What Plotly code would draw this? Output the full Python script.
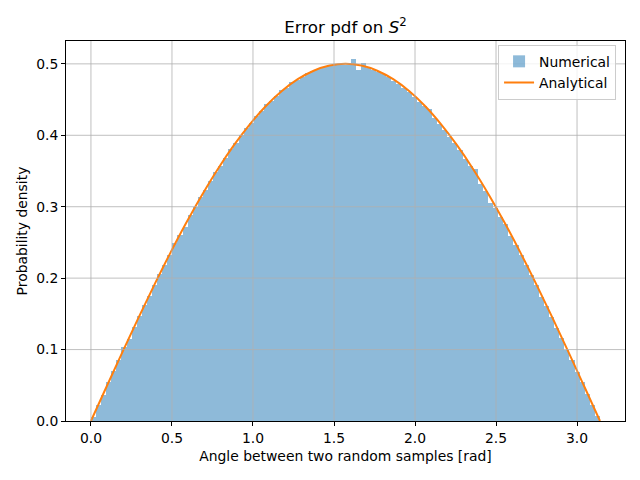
import numpy as np
import plotly.graph_objects as go

# --- DATA ---
N_BINS = 100
hist_density = [
    0.006, 0.022, 0.037, 0.054, 0.070, 0.085, 0.103, 0.115, 0.131, 0.147,
    0.163, 0.175, 0.190, 0.206, 0.219, 0.233, 0.249, 0.260, 0.272, 0.288,
    0.299, 0.313, 0.323, 0.336, 0.349, 0.357, 0.368, 0.381, 0.389, 0.400,
    0.410, 0.417, 0.427, 0.434, 0.444, 0.448, 0.455, 0.463, 0.466, 0.474,
    0.478, 0.481, 0.487, 0.490, 0.493, 0.496, 0.497, 0.498, 0.499, 0.499,
    0.498, 0.507, 0.492, 0.501, 0.494, 0.491, 0.488, 0.486, 0.481, 0.476,
    0.472, 0.466, 0.461, 0.454, 0.446, 0.441, 0.437, 0.424, 0.416, 0.407,
    0.398, 0.389, 0.379, 0.367, 0.357, 0.353, 0.332, 0.322, 0.305, 0.298,
    0.285, 0.276, 0.259, 0.246, 0.232, 0.218, 0.204, 0.190, 0.174, 0.161,
    0.145, 0.130, 0.116, 0.099, 0.085, 0.069, 0.054, 0.038, 0.022, 0.007,
]

curve_x = [
    0.0, 0.0982, 0.1963, 0.2945, 0.3927, 0.4909, 0.5890, 0.6872, 0.7854,
    0.8836, 0.9817, 1.0799, 1.1781, 1.2763, 1.3744, 1.4726, 1.5708, 1.6690,
    1.7671, 1.8653, 1.9635, 2.0617, 2.1598, 2.2580, 2.3562, 2.4544, 2.5525,
    2.6507, 2.7489, 2.8471, 2.9452, 3.0434, 3.1416,
]
curve_y = [
    0.0, 0.0490, 0.0975, 0.1451, 0.1913, 0.2357, 0.2778, 0.3172, 0.3536,
    0.3865, 0.4157, 0.4410, 0.4619, 0.4785, 0.4904, 0.4976, 0.5000, 0.4976,
    0.4904, 0.4785, 0.4619, 0.4410, 0.4157, 0.3865, 0.3536, 0.3172, 0.2778,
    0.2357, 0.1913, 0.1451, 0.0975, 0.0490, 0.0,
]

x_ticks = [0.0, 0.5, 1.0, 1.5, 2.0, 2.5, 3.0]
y_ticks = [0.0, 0.1, 0.2, 0.3, 0.4, 0.5]

# bins spanning [0, pi]
edges = np.linspace(0, np.pi, N_BINS + 1)
centers = (edges[:-1] + edges[1:]) / 2
width = edges[1] - edges[0]

FONT = "DejaVu Sans"
FS = 13.9  # 10pt at 100 dpi
GRID = "#b0b0b0"

fig = go.Figure()
fig.add_trace(go.Bar(
    x=centers, y=hist_density, width=width,
    marker=dict(color="#1f77b4", line=dict(width=0)),
    opacity=0.5, name="Numerical",
))
fig.add_trace(go.Scatter(
    x=curve_x, y=curve_y, mode="lines", line_shape="spline",
    line=dict(color="#ff7f0e", width=2), name="Analytical",
))

# matplotlib draws the grid over the bars, so use shapes on top instead of the axis grid
for t in x_ticks:
    fig.add_shape(type="line", xref="x", yref="paper", x0=t, x1=t, y0=0, y1=1,
                  line=dict(color=GRID, width=0.8), layer="above")
for t in y_ticks[1:]:
    fig.add_shape(type="line", xref="paper", yref="y", x0=0, x1=1, y0=t, y1=t,
                  line=dict(color=GRID, width=0.8), layer="above")

axis_common = dict(
    showline=True, linecolor="black", linewidth=1, mirror=True,
    ticks="outside", ticklen=4, tickcolor="black",
    showgrid=False, zeroline=False, automargin=False,
    tickfont=dict(family=FONT, size=FS, color="black"),
)

# the page puts the plot 8px in from the top-left corner, so margins allow for that
fig.update_layout(
    width=640, height=480,
    margin=dict(l=58, r=23, t=33, b=67),
    paper_bgcolor="white", plot_bgcolor="white",
    font=dict(family=FONT, size=FS, color="black"),
    title=dict(text="Error pdf on <i>S</i><sup>2</sup>", x=0.5, xanchor="center",
               xref="paper", y=0.961, yanchor="middle",
               font=dict(family=FONT, size=16.7, color="black")),
    bargap=0,
    showlegend=True,
    legend=dict(x=0.984, y=0.99, xanchor="right", yanchor="top",
                bgcolor="rgba(255,255,255,0.8)", bordercolor="#cccccc", borderwidth=1,
                font=dict(family=FONT, size=FS)),
)
fig.update_xaxes(range=[-0.154, 3.296], tickvals=x_ticks, tickformat=".1f",
                 title=dict(text="Angle between two random samples [rad]", standoff=6,
                            font=dict(family=FONT, size=FS)), **axis_common)
fig.update_yaxes(range=[0, 0.532], tickvals=y_ticks, tickformat=".1f",
                 title=dict(text="Probability density", standoff=5,
                            font=dict(family=FONT, size=FS)), **axis_common)

fig.write_html("out.html")
